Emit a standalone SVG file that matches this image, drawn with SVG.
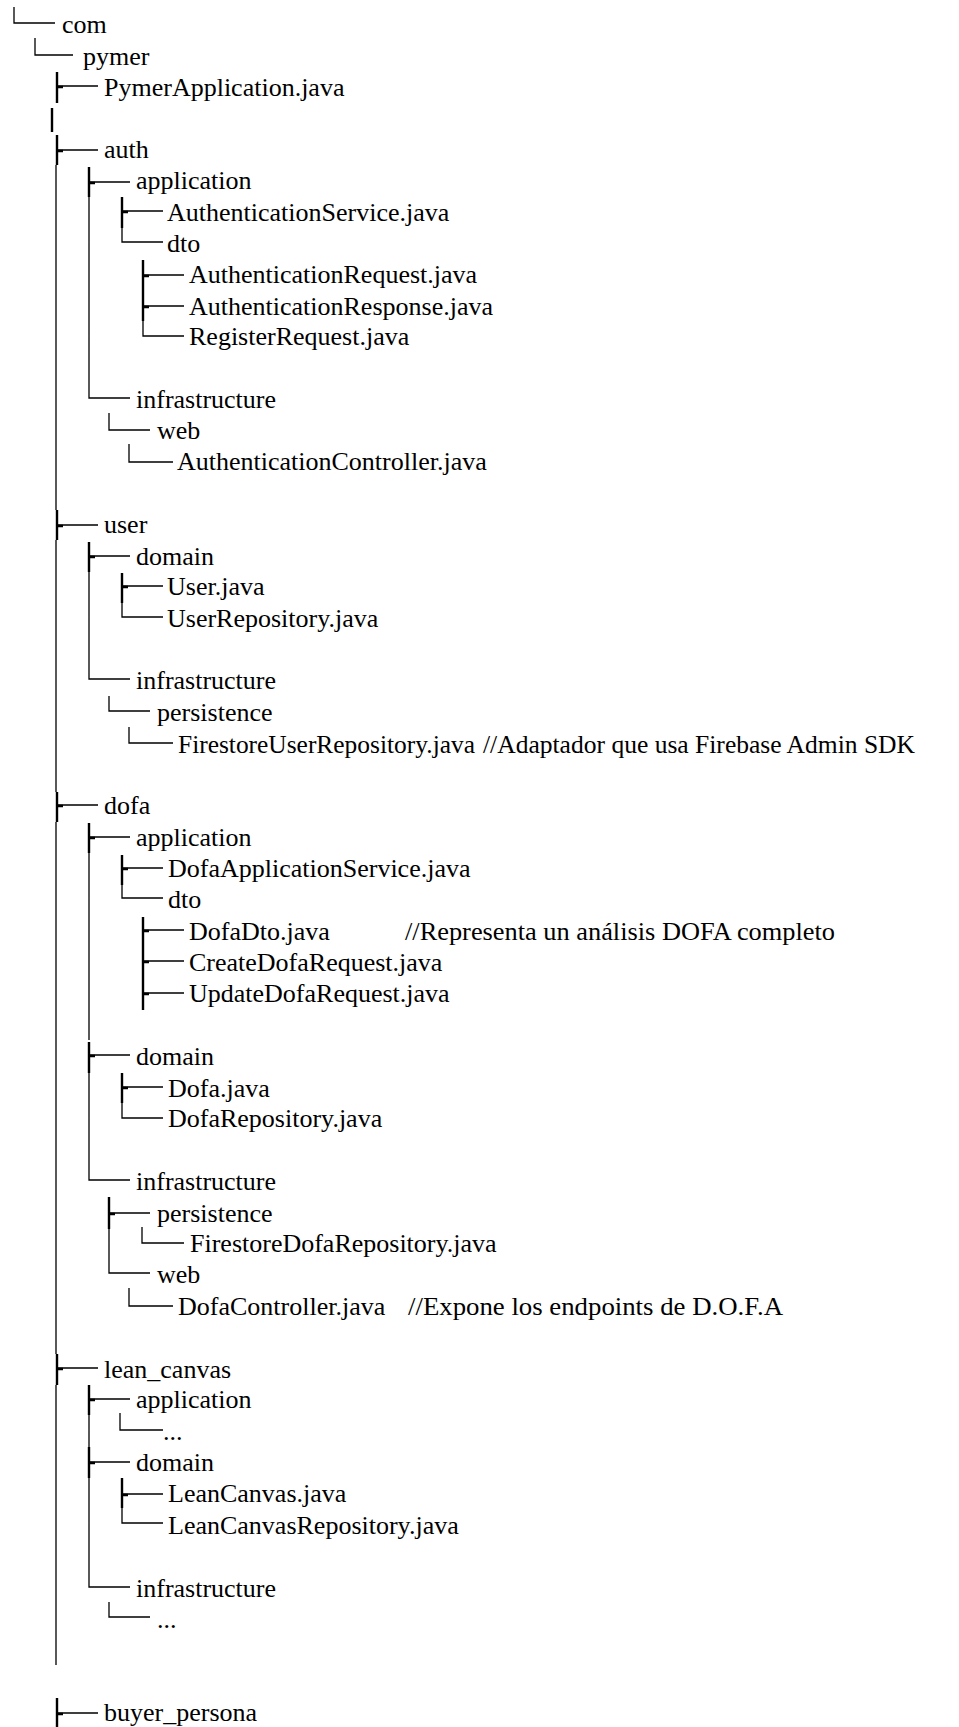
<svg xmlns="http://www.w3.org/2000/svg" width="959" height="1727" viewBox="0 0 959 1727">
  <style>
    .t { font-family: "Liberation Serif", "Times New Roman", serif; font-size: 26px; fill: #000; }
    .thin { fill: none; stroke: #000; stroke-width: 1.3; }
    .bar { fill: none; stroke: #000; stroke-width: 2.4; }
  </style>
  <rect width="959" height="1727" fill="#fff"/>

  <!-- tree branches -->
  <g id="connectors">
    <!-- corner branches └── -->
    <path class="thin" d="M14,7V23H55 M35,38V55H73"/>
    <!-- root trunk -->
    <path class="thin" d="M56,165V510 M56,540V792 M56,822V1354 M56,1385V1665"/>
    <!-- tee branches ├── on the trunk -->
    <path class="bar" d="M57,72V103 M52,108V132 M57,135V165 M57,510V540 M57,792V822 M57,1354V1385 M57,1698V1727"/>
    <path class="thin" d="M57,86H98 M57,150H98 M57,525H98 M57,805H98 M57,1368H98 M57,1713H98"/>
    <path class="bar" d="M57,87H63 M57,151H63 M57,526H63 M57,806H63 M57,1369H63 M57,1714H63"/>

    <!-- auth -->
    <path class="bar" d="M89,167V197 M122,197V228 M143,260V290 M143,290V321"/>
    <path class="thin" d="M89,182H130 M122,211H163 M143,275H184 M143,306H184"/>
    <path class="bar" d="M89,183H95 M122,212H128 M143,276H149 M143,307H149"/>
    <path class="thin" d="M89,197V398H130 M122,228V242H163 M143,321V336H184 M109,413V430H150 M129,444V462H173"/>

    <!-- user -->
    <path class="bar" d="M89,542V572 M122,573V603"/>
    <path class="thin" d="M89,556H130 M122,586H163"/>
    <path class="bar" d="M89,557H95 M122,587H128"/>
    <path class="thin" d="M89,572V679H130 M122,603V617H163 M109,696V711H150 M129,727V743H173"/>

    <!-- dofa -->
    <path class="bar" d="M89,823V853 M122,855V885 M143,917V946 M143,946V977 M143,977V1010 M89,1042V1073 M122,1073V1103 M109,1197V1229"/>
    <path class="thin" d="M89,837H130 M122,868H163 M143,930H184 M143,961H184 M143,993H184 M89,1055H130 M122,1087H163 M109,1213H150"/>
    <path class="bar" d="M89,838H95 M122,869H128 M143,931H149 M143,962H149 M143,994H149 M89,1056H95 M122,1088H128 M109,1214H115"/>
    <path class="thin" d="M89,853V1040 M122,885V898H163 M89,1073V1180H130 M122,1103V1118H163 M109,1229V1273H150 M142,1227V1243H184 M129,1288V1306H173"/>

    <!-- lean_canvas -->
    <path class="bar" d="M89,1385V1415 M89,1447V1478 M122,1478V1508"/>
    <path class="thin" d="M89,1399H130 M89,1462H130 M122,1494H163"/>
    <path class="bar" d="M89,1400H95 M89,1463H95 M122,1495H128"/>
    <path class="thin" d="M89,1415V1447 M120,1413V1430H163 M89,1478V1587H130 M122,1508V1523H163 M109,1602V1617H150"/>
  </g>

  <g id="n-com"><text class="t" x="62" y="33">com</text></g>
  <g id="n-pymer"><text class="t" x="83" y="65">pymer</text></g>
  <g id="n-pymer-app"><text class="t" x="104" y="96">PymerApplication.java</text></g>

  <g id="n-auth"><text class="t" x="104" y="158">auth</text></g>
  <g id="n-auth-application"><text class="t" x="136" y="189">application</text></g>
  <g id="n-auth-service"><text class="t" x="167" y="221">AuthenticationService.java</text></g>
  <g id="n-auth-dto"><text class="t" x="167" y="252">dto</text></g>
  <g id="n-auth-request"><text class="t" x="189" y="283">AuthenticationRequest.java</text></g>
  <g id="n-auth-response"><text class="t" x="189" y="315">AuthenticationResponse.java</text></g>
  <g id="n-register-request"><text class="t" x="189" y="345">RegisterRequest.java</text></g>
  <g id="n-auth-infra"><text class="t" x="136" y="408">infrastructure</text></g>
  <g id="n-auth-web"><text class="t" x="157" y="439">web</text></g>
  <g id="n-auth-controller"><text class="t" x="177" y="470">AuthenticationController.java</text></g>

  <g id="n-user"><text class="t" x="104" y="533">user</text></g>
  <g id="n-user-domain"><text class="t" x="136" y="565">domain</text></g>
  <g id="n-user-entity"><text class="t" x="167" y="595">User.java</text></g>
  <g id="n-user-repo"><text class="t" x="167" y="627">UserRepository.java</text></g>
  <g id="n-user-infra"><text class="t" x="136" y="689">infrastructure</text></g>
  <g id="n-user-persistence"><text class="t" x="157" y="721">persistence</text></g>
  <g id="n-firestore-user-repo">
    <text class="t" x="178" y="753" textLength="297" lengthAdjust="spacingAndGlyphs">FirestoreUserRepository.java</text>
    <text class="t" x="483" y="753" textLength="432" lengthAdjust="spacingAndGlyphs">//Adaptador que usa Firebase Admin SDK</text>
  </g>

  <g id="n-dofa"><text class="t" x="104" y="814">dofa</text></g>
  <g id="n-dofa-application"><text class="t" x="136" y="846">application</text></g>
  <g id="n-dofa-app-service"><text class="t" x="168" y="877">DofaApplicationService.java</text></g>
  <g id="n-dofa-dto"><text class="t" x="168" y="908">dto</text></g>
  <g id="n-dofa-dto-class">
    <text class="t" x="189" y="940">DofaDto.java</text>
    <text class="t" x="405" y="940" textLength="430" lengthAdjust="spacingAndGlyphs">//Representa un análisis DOFA completo</text>
  </g>
  <g id="n-create-dofa"><text class="t" x="189" y="971">CreateDofaRequest.java</text></g>
  <g id="n-update-dofa"><text class="t" x="189" y="1002">UpdateDofaRequest.java</text></g>
  <g id="n-dofa-domain"><text class="t" x="136" y="1065">domain</text></g>
  <g id="n-dofa-entity"><text class="t" x="168" y="1097">Dofa.java</text></g>
  <g id="n-dofa-repo"><text class="t" x="168" y="1127">DofaRepository.java</text></g>
  <g id="n-dofa-infra"><text class="t" x="136" y="1190">infrastructure</text></g>
  <g id="n-dofa-persistence"><text class="t" x="157" y="1222">persistence</text></g>
  <g id="n-firestore-dofa-repo"><text class="t" x="190" y="1252">FirestoreDofaRepository.java</text></g>
  <g id="n-dofa-web"><text class="t" x="157" y="1283">web</text></g>
  <g id="n-dofa-controller">
    <text class="t" x="178" y="1315">DofaController.java</text>
    <text class="t" x="408" y="1315" textLength="375" lengthAdjust="spacingAndGlyphs">//Expone los endpoints de D.O.F.A</text>
  </g>

  <g id="n-lean-canvas"><text class="t" x="104" y="1378">lean_canvas</text></g>
  <g id="n-lean-application"><text class="t" x="136" y="1408">application</text></g>
  <g id="n-lean-application-more"><text class="t" x="163" y="1440" font-size="16">...</text></g>
  <g id="n-lean-domain"><text class="t" x="136" y="1471">domain</text></g>
  <g id="n-lean-entity"><text class="t" x="168" y="1502">LeanCanvas.java</text></g>
  <g id="n-lean-repo"><text class="t" x="168" y="1534">LeanCanvasRepository.java</text></g>
  <g id="n-lean-infra"><text class="t" x="136" y="1597">infrastructure</text></g>
  <g id="n-lean-infra-more"><text class="t" x="157" y="1628" font-size="16">...</text></g>

  <g id="n-buyer-persona"><text class="t" x="104" y="1721">buyer_persona</text></g>
</svg>
